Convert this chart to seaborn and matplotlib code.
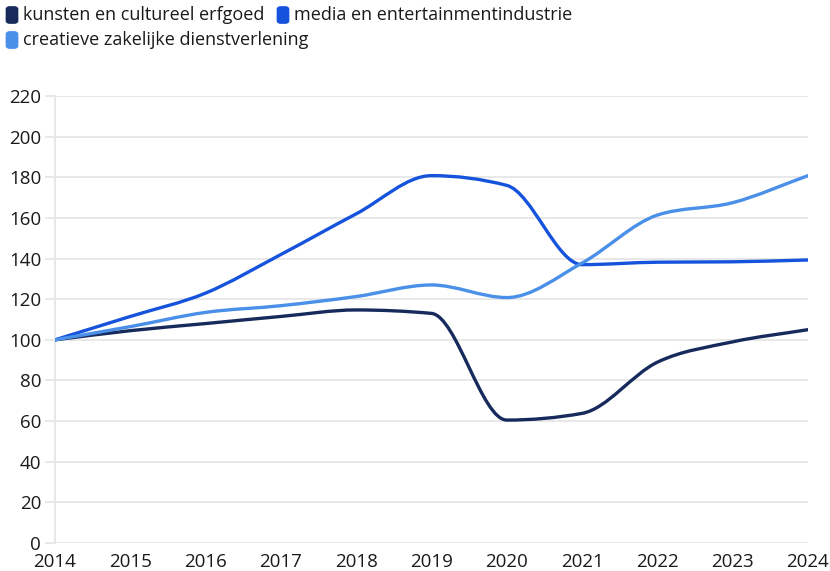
import numpy as np
import matplotlib
matplotlib.use("Agg")
import matplotlib.pyplot as plt
import seaborn as sns
from matplotlib.path import Path
from matplotlib.patches import PathPatch, FancyBboxPatch

years = [2014, 2015, 2016, 2017, 2018, 2019, 2020, 2021, 2022, 2023, 2024]
kunsten = [100, 104.5, 108, 111.5, 114.7, 113, 60.5, 63.8, 89, 99, 105]
media = [100, 111.5, 123, 142, 162, 180.8, 176, 137, 138.2, 138.4, 139.3]
creatief = [100, 106.5, 113.5, 116.8, 121.3, 127, 120.8, 137.8, 161.4, 167.5, 180.8]

series_names = ["kunsten en cultureel erfgoed", "media en entertainmentindustrie",
                "creatieve zakelijke dienstverlening"]
series_values = [kunsten, media, creatief]
colors = ["#162a5c", "#1553dc", "#4a8fe8"]
y_ticks = [0, 20, 40, 60, 80, 100, 120, 140, 160, 180, 200, 220]


def monotone_path(x, y):
    # cubic bezier path with monotone (Fritsch-Carlson) tangents, like d3 curveMonotoneX
    x = np.asarray(x, float)
    y = np.asarray(y, float)
    h = np.diff(x)
    d = np.diff(y) / h
    m = np.zeros_like(y)
    m[0], m[-1] = d[0], d[-1]
    for i in range(1, len(y) - 1):
        if d[i - 1] * d[i] <= 0:
            m[i] = 0
        else:
            m[i] = (np.sign(d[i - 1]) + np.sign(d[i])) * min(abs(d[i - 1]), abs(d[i]),
                                                             0.5 * abs((h[i - 1] * d[i] + h[i] * d[i - 1]) / (h[i - 1] + h[i])))
    verts = [(x[0], y[0])]
    codes = [Path.MOVETO]
    for i in range(len(x) - 1):
        dx = h[i] / 3
        verts += [(x[i] + dx, y[i] + m[i] * dx), (x[i + 1] - dx, y[i + 1] - m[i + 1] * dx), (x[i + 1], y[i + 1])]
        codes += [Path.CURVE4] * 3
    return Path(verts, codes)


sns.set_theme(style="white")
plt.rcParams["font.family"] = ["Open Sans", "DejaVu Sans"]

fig = plt.figure(figsize=(8.30, 5.71), dpi=100)
ax = fig.add_axes([55 / 830, 28 / 571, 753 / 830, 447 / 571])

for name, vals, col in zip(series_names, series_values, colors):
    patch = PathPatch(monotone_path(years, vals), facecolor="none", edgecolor=col,
                      lw=2.4, capstyle="round", joinstyle="round", zorder=3)
    ax.add_patch(patch)

ax.set_xlim(2014, 2024)
ax.set_ylim(0, 220)
ax.set_xticks(years)
ax.set_yticks(y_ticks)
ax.grid(axis="y", color="#e8e8e8", lw=1.4)
ax.grid(axis="x", visible=False)
sns.despine(ax=ax, top=True, right=True, bottom=True, left=False)
ax.spines["left"].set_color("#e8e8e8")
ax.spines["left"].set_linewidth(1.4)
ax.tick_params(axis="y", length=7, width=1.4, color="#e8e8e8", labelsize=13.5, labelcolor="#1a1a1a", pad=3, left=True)
ax.tick_params(axis="x", length=0, labelsize=13.5, labelcolor="#1a1a1a", pad=7)
ax.set_xlabel("")
ax.set_ylabel("")

# legend at the top, rounded markers
legend_pos = [(8, 15), (279, 15), (8, 40)]
for (px, py), name, col in zip(legend_pos, series_names, colors):
    box = FancyBboxPatch((px / 830, 1 - (py + 7) / 571), 8 / 830, 14 / 571,
                         boxstyle="round,pad=0.002,rounding_size=0.004",
                         transform=fig.transFigure, facecolor=col, edgecolor=col)
    fig.patches.append(box)
    fig.text((px + 15) / 830, 1 - py / 571, name, fontsize=13, color="#1a1a1a",
             va="center", ha="left")

fig.savefig("out.png", dpi=100)
